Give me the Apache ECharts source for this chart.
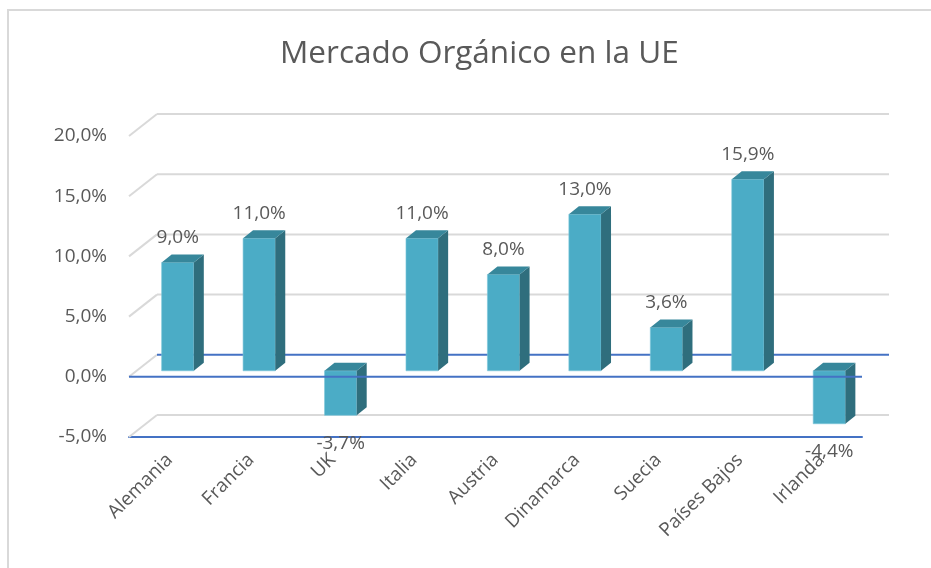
<!DOCTYPE html>
<html>
<head>
<meta charset="utf-8">
<script src="https://cdn.jsdelivr.net/npm/echarts@6/dist/echarts.min.js"></script>
<style>
  html, body { margin: 0; padding: 0; background: #fff; }
  #chart { width: 931px; height: 568px; }
</style>
</head>
<body>
<div id="chart"></div>
<script>
// datos
const paises = ['Alemania', 'Francia', 'UK', 'Italia', 'Austria', 'Dinamarca', 'Suecia', 'Países Bajos', 'Irlanda'];
const crecimiento = [9.0, 11.0, -3.7, 11.0, 8.0, 13.0, 3.6, 15.9, -4.4];
const ticksY = [-5, 0, 5, 10, 15, 20];

const gris = '#595959';
const azul = '#4472C4';
const fmt = v => v.toFixed(1).replace('.', ',') + '%';

// profundidad del "3D"
const PARED_DX = 28, PARED_DY = -22;   // pared del fondo
const BARRA_OX = 8, BARRA_OY = -6;     // plano frontal de las barras
const BARRA_DX = 10, BARRA_DY = -8;    // grosor de la barra

const chart = echarts.init(document.getElementById('chart'));

const option = {
  animation: false,
  textStyle: { fontFamily: '"Open Sans", sans-serif' },
  title: {
    text: 'Mercado Orgánico en la UE',
    left: 275,
    top: 33,
    textStyle: { color: gris, fontSize: 31.5, fontWeight: 'normal', fontFamily: '"Open Sans", sans-serif' }
  },
  graphic: [{
    type: 'polyline',
    shape: { points: [[8, 600], [8, 10], [940, 10]] },
    style: { stroke: '#d9d9d9', lineWidth: 2, fill: null }
  }],
  grid: { left: 129, top: 136, width: 733, height: 301 },
  xAxis: {
    type: 'category',
    data: paises,
    axisTick: { show: false },
    axisLine: { onZero: false, lineStyle: { color: azul, width: 2 } },
    axisLabel: { rotate: 45, margin: 20, color: gris, fontSize: 19, interval: 0 }
  },
  yAxis: {
    type: 'value',
    min: -5, max: 20, interval: 5,
    axisLine: { show: false },
    axisTick: { show: false },
    splitLine: { show: false },
    axisLabel: { margin: 22, color: gris, fontSize: 19, formatter: fmt }
  },
  series: [
    {
      // paredes: líneas laterales y del fondo
      type: 'custom',
      z: 1,
      silent: true,
      data: ticksY.map(v => [0, v]),
      renderItem: (params, api) => {
        const cs = params.coordSys;
        const y = api.coord([0, api.value(1)])[1];
        const colorFondo = api.value(1) === 0 ? azul : '#d9d9d9';
        return {
          type: 'group',
          children: [
            {
              type: 'line',
              shape: { x1: cs.x, y1: y, x2: cs.x + PARED_DX, y2: y + PARED_DY },
              style: { stroke: '#d9d9d9', lineWidth: 2 }
            },
            {
              type: 'line',
              shape: { x1: cs.x + PARED_DX, y1: y + PARED_DY, x2: cs.x + cs.width + PARED_DX - 1, y2: y + PARED_DY },
              style: { stroke: colorFondo, lineWidth: 2 }
            }
          ]
        };
      }
    },
    {
      type: 'custom',
      z: 2,
      data: crecimiento.map((v, i) => [i, v]),
      renderItem: (params, api) => {
        const cero = api.coord([api.value(0), 0]);
        const tope = api.coord([api.value(0), api.value(1)]);
        const w = api.size([1, 0])[0] * 0.395;
        const x0 = cero[0] + BARRA_OX - w / 2;
        const y0 = Math.min(cero[1], tope[1]) + BARRA_OY;
        const h = Math.abs(cero[1] - tope[1]);
        const val = api.value(1);
        const ly = val >= 0 ? y0 - 25 : y0 + h + 28;
        return {
          type: 'group',
          children: [
            {
              type: 'rect',
              shape: { x: x0, y: y0, width: w, height: h },
              style: { fill: '#4BACC6', stroke: '#7cc6da', lineWidth: 0.6 }
            },
            {
              type: 'polygon',
              shape: { points: [[x0 + w, y0], [x0 + w + BARRA_DX, y0 + BARRA_DY], [x0 + w + BARRA_DX, y0 + h + BARRA_DY], [x0 + w, y0 + h]] },
              style: { fill: '#2F6E7D' }
            },
            {
              type: 'polygon',
              shape: { points: [[x0, y0], [x0 + BARRA_DX, y0 + BARRA_DY], [x0 + w + BARRA_DX, y0 + BARRA_DY], [x0 + w, y0]] },
              style: { fill: '#37879B' }
            },
            {
              type: 'text',
              x: x0 + w / 2,
              y: ly,
              style: {
                text: fmt(val),
                fill: gris,
                font: '19px "Open Sans", sans-serif',
                align: 'center',
                verticalAlign: 'middle'
              }
            }
          ]
        };
      }
    },
    {
      // línea frontal del cero, por encima de las barras
      type: 'custom',
      z: 3,
      silent: true,
      data: [[0, 0]],
      renderItem: (params, api) => {
        const cs = params.coordSys;
        const y = api.coord([0, 0])[1];
        return {
          type: 'line',
          shape: { x1: cs.x, y1: y, x2: cs.x + cs.width, y2: y },
          style: { stroke: azul, lineWidth: 2 }
        };
      }
    }
  ]
};

chart.setOption(option);
</script>
</body>
</html>
